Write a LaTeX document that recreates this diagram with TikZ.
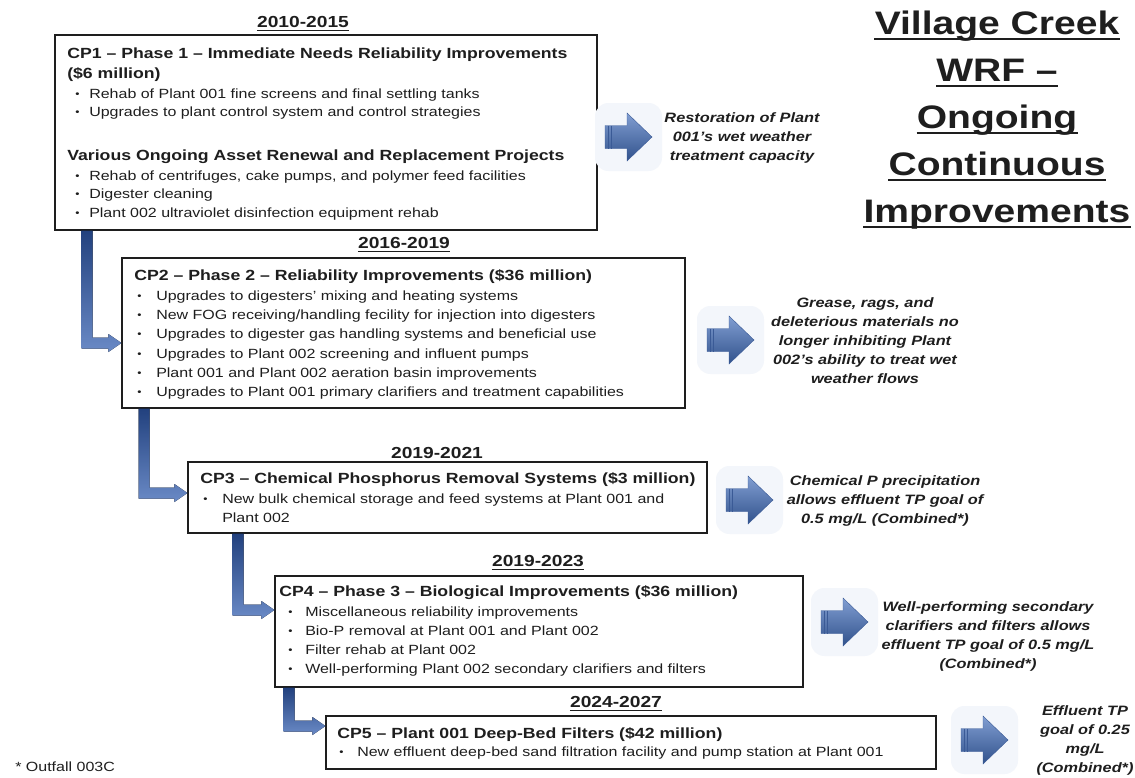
\documentclass[tikz,border=0pt]{standalone}
\usepackage{fontspec}
\setmainfont{Liberation Sans}[FakeStretch=1.2]
\usetikzlibrary{calc,fit}
\definecolor{elbowtop}{HTML}{22417E}
\definecolor{elbowbot}{HTML}{6A8AC6}
\definecolor{arrtop}{HTML}{819ED2}
\definecolor{arrbot}{HTML}{31528C}
\definecolor{arredge}{HTML}{3A5A96}
\definecolor{glowc}{HTML}{F3F6FB}
\definecolor{inkc}{HTML}{1E1E1E}
\newcommand\hfnt{\fontsize{11.05}{13}\selectfont\bfseries}
\newcommand\bfnt{\fontsize{10}{12}\selectfont}
\newcommand\yfnt{\fontsize{12}{14}\selectfont\bfseries}
\newcommand\cfnt{\fontsize{10.2}{14.25}\selectfont\bfseries\itshape}
\newcommand\tfnt{\fontsize{24.4}{29}\selectfont\bfseries}
\newcommand\ffnt{\fontsize{10}{12}\selectfont}
\tikzset{
  boxst/.style={draw=inkc, line width=0.9pt, fill=white, inner sep=0pt},
  headtxt/.style={anchor=base west, inner sep=0pt, font=\hfnt, text=inkc},
  bodytxt/.style={anchor=base west, inner sep=0pt, font=\bfnt, text=inkc},
  bultxt/.style={anchor=base west, inner sep=0pt, font=\bfnt, text=inkc},
  yeartxt/.style={anchor=base, inner sep=0pt, font=\yfnt, text=inkc},
  captxt/.style={align=center, inner sep=0pt, font=\cfnt, text=inkc},
  titletxt/.style={anchor=base, inner sep=0pt, font=\tfnt, text=inkc},
  yul/.style={line width=1.1pt, inkc},
  tul/.style={line width=1.6pt, inkc},
  elbowfill/.style={top color=elbowtop, bottom color=elbowbot},
  arrowfill/.style={top color=arrtop, bottom color=arrbot, draw=arredge, line width=0.3pt},
  arrstripe/.style={draw=arredge, line width=0.6pt},
  glow/.style={fill=glowc, rounded corners=10pt},
}
\newcommand\bitem[5]{%
  \node[bultxt] (#1b) at (#2,#4) {\fontsize{7.5}{7.5}\selectfont\raisebox{0.6pt}{•}};
  \node[bodytxt] (#1) at (#3,#4) {#5};}
\newcommand\elbow[3]{%
  \fill[elbowfill] ($(#1.south -| #3)+(-5.5,0)$) -- ($(#3)+(-5.5,5.5)$)
    -- ($(#2.west |- #3)+(-13,5.5)$) -- ($(#2.west |- #3)+(-13,9)$)
    -- (#2.west |- #3) -- ($(#2.west |- #3)+(-13,-9)$)
    -- ($(#2.west |- #3)+(-13,-5.5)$) -- ($(#3)+(5.5,-5.5)$)
    -- ($(#1.south -| #3)+(5.5,0)$) -- cycle;}
\newcommand\bigarrow[1]{%
  \fill[glow] ($(#1)+(-32,-34)$) rectangle ($(#1)+(35,34)$);
  \path[arrowfill] ($(#1)+(-22,-11.5)$) -- ($(#1)+(0,-11.5)$) -- ($(#1)+(0,-24)$)
    -- ($(#1)+(25,0)$) -- ($(#1)+(0,24)$) -- ($(#1)+(0,11.5)$)
    -- ($(#1)+(-22,11.5)$) -- cycle;
  \draw[arrstripe] ($(#1)+(-19,-11.5)$) -- ($(#1)+(-19,11.5)$);
  \draw[arrstripe] ($(#1)+(-16,-11.5)$) -- ($(#1)+(-16,11.5)$);}
\begin{document}
\begin{tikzpicture}[x=0.75pt, y=-0.75pt]
\useasboundingbox (0,0) rectangle (1135,778);
\fill[white] (0,0) rectangle (1135,778);

% ---------- boxes ----------
\node[boxst, fit={(55,35) (597,230)}] (cp1) {};
\node[boxst, fit={(122,258) (685,408)}] (cp2) {};
\node[boxst, fit={(188,462) (707,533)}] (cp3) {};
\node[boxst, fit={(275,576) (803,687)}] (cp4) {};
\node[boxst, fit={(326,716) (936,769)}] (cp5) {};

% ---------- elbow connectors ----------
\coordinate (e1) at (87,343);
\coordinate (e2) at (144,493);
\coordinate (e3) at (238,610);
\coordinate (e4) at (289,726);
\elbow{cp1}{cp2}{e1}
\elbow{cp2}{cp3}{e2}
\elbow{cp3}{cp4}{e3}
\elbow{cp4}{cp5}{e4}

% ---------- years ----------
\node[yeartxt] (y1) at (303,27) {2010-2015};
\node[yeartxt] (y2) at (404,248) {2016-2019};
\node[yeartxt] (y3) at (437,458) {2019-2021};
\node[yeartxt] (y4) at (538,566) {2019-2023};
\node[yeartxt] (y5) at (616,707) {2024-2027};
\foreach \y in {y1,y2,y3,y4,y5}
  \draw[yul] ($(\y.base west)+(0,3.5)$) -- ($(\y.base east)+(0,3.5)$);

% ---------- CP1 ----------
\node[headtxt] (h11) at (67,58) {CP1 – Phase 1 – Immediate Needs Reliability Improvements};
\node[headtxt] (h12) at (67,78) {(\$6 million)};
\bitem{b11}{75}{89}{98}{Rehab of Plant 001 fine screens and final settling tanks}
\bitem{b12}{75}{89}{116}{Upgrades to plant control system and control strategies}
\node[headtxt] (h13) at (67,160) {Various Ongoing Asset Renewal and Replacement Projects};
\bitem{b13}{75}{89}{180}{Rehab of centrifuges, cake pumps, and polymer feed facilities}
\bitem{b14}{75}{89}{198}{Digester cleaning}
\bitem{b15}{75}{89}{217}{Plant 002 ultraviolet disinfection equipment rehab}

% ---------- CP2 ----------
\node[headtxt] (h2) at (134,280) {CP2 – Phase 2 – Reliability Improvements (\$36 million)};
\bitem{b21}{137}{156}{300}{Upgrades to digesters’ mixing and heating systems}
\bitem{b22}{137}{156}{319}{New FOG receiving/handling fecility for injection into digesters}
\bitem{b23}{137}{156}{338}{Upgrades to digester gas handling systems and beneficial use}
\bitem{b24}{137}{156}{358}{Upgrades to Plant 002 screening and influent pumps}
\bitem{b25}{137}{156}{377}{Plant 001 and Plant 002 aeration basin improvements}
\bitem{b26}{137}{156}{396}{Upgrades to Plant 001 primary clarifiers and treatment capabilities}

% ---------- CP3 ----------
\node[headtxt] (h3) at (200,483) {CP3 – Chemical Phosphorus Removal Systems (\$3 million)};
\bitem{b31}{203}{222}{503}{New bulk chemical storage and feed systems at Plant 001 and}
\node[bodytxt] (b32) at (222,522) {Plant 002};

% ---------- CP4 ----------
\node[headtxt] (h4) at (279,596) {CP4 – Phase 3 – Biological Improvements (\$36 million)};
\bitem{b41}{288}{305}{616}{Miscellaneous reliability improvements}
\bitem{b42}{288}{305}{635}{Bio-P removal at Plant 001 and Plant 002}
\bitem{b43}{288}{305}{654}{Filter rehab at Plant 002}
\bitem{b44}{288}{305}{673}{Well-performing Plant 002 secondary clarifiers and filters}

% ---------- CP5 ----------
\node[headtxt] (h5) at (337,738) {CP5 – Plant 001 Deep-Bed Filters (\$42 million)};
\bitem{b51}{339}{357}{756}{New effluent deep-bed sand filtration facility and pump station at Plant 001}

% ---------- outcome arrows ----------
\coordinate (a1) at (627,137);
\coordinate (a2) at (729,340);
\coordinate (a3) at (748,500);
\coordinate (a4) at (843,622);
\coordinate (a5) at (983,740);
\bigarrow{a1}
\bigarrow{a2}
\bigarrow{a3}
\bigarrow{a4}
\bigarrow{a5}

% ---------- outcome captions ----------
\node[captxt] (c1) at (742,138) {Restoration of Plant\\001’s wet weather\\treatment capacity};
\node[captxt] (c2) at (865,341) {Grease, rags, and\\deleterious materials no\\longer inhibiting Plant\\002’s ability to treat wet\\weather flows};
\node[captxt] (c3) at (885,501) {Chemical P precipitation\\allows effluent TP goal of\\0.5 mg/L (Combined*)};
\node[captxt] (c4) at (988,636) {Well-performing secondary\\clarifiers and filters allows\\effluent TP goal of 0.5 mg/L\\(Combined*)};
\node[captxt] (c5) at (1085,740) {Effluent TP\\goal of 0.25\\mg/L\\(Combined*)};

% ---------- title ----------
\node[titletxt] (t1) at (997,34) {Village Creek};
\node[titletxt] (t2) at (997,81) {WRF –};
\node[titletxt] (t3) at (997,128) {Ongoing};
\node[titletxt] (t4) at (997,175) {Continuous};
\node[titletxt] (t5) at (997,222) {Improvements};
\foreach \t in {t1,t2,t3,t4,t5}
  \draw[tul] ($(\t.base west)+(0,5)$) -- ($(\t.base east)+(0,5)$);

% ---------- footnote ----------
\node[anchor=base west, inner sep=0pt, font=\ffnt, text=inkc] (fn) at (15,771) {* Outfall 003C};
\end{tikzpicture}
\end{document}
